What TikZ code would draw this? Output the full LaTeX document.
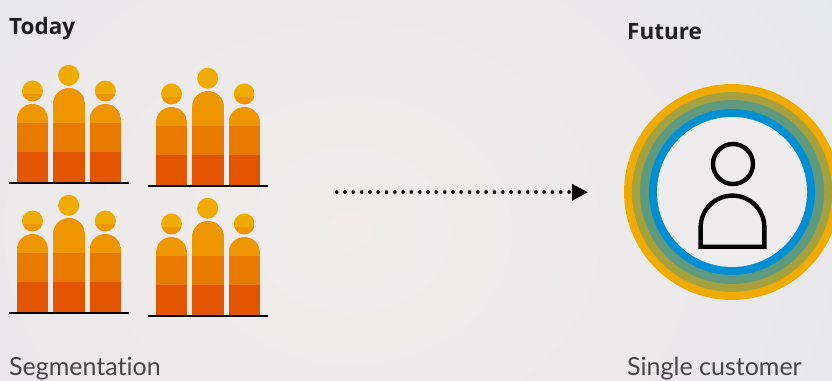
\documentclass[tikz,border=0pt]{standalone}
\usepackage{fontspec}
\setmainfont[Ligatures=NoCommon]{Lato}
\newfontfamily\headfont{Open Sans}
\usetikzlibrary{arrows.meta}
\definecolor{bgout}{HTML}{E5E6E9}
\definecolor{bgin}{HTML}{F2ECEC}
\definecolor{ptop}{HTML}{F0AB00}
\definecolor{pb}{HTML}{EE9600}
\definecolor{pc}{HTML}{E97A00}
\definecolor{pd}{HTML}{E35500}
\definecolor{ringb}{HTML}{A5A13F}
\definecolor{ringc}{HTML}{5F9A7E}
\definecolor{ringd}{HTML}{008FD3}
\definecolor{disc}{HTML}{EEEBEC}
\definecolor{txt}{HTML}{1F1F1F}
\tikzset{
  x=1pt,y=1pt,
  heading/.style={anchor=base west,inner sep=0pt,font=\headfont\fontsize{22.5}{24}\selectfont\bfseries,text=txt},
  caption/.style={anchor=base west,inner sep=0pt,font=\fontsize{25}{28}\selectfont,text=black!72},
  icon/.style={draw=black,line width=4.4pt,fill=none},
  flow/.style={line width=3.6pt,line cap=round,dash pattern=on 0.05pt off 8.25pt,-{Triangle[length=16pt,width=16pt]}},
  baseline rule/.style={line width=2.4pt,draw=black}
}
\newcommand{\onebody}[3]{% x centre, radius, top
  \begin{scope}
    \clip (#1-#2,198) -- (#1-#2,#3-#2) arc[start angle=180,end angle=0,radius=#2] -- (#1+#2,198) -- cycle;
    \fill[pb] (#1-#2,228) rectangle (#1+#2,#3+1);
    \fill[pc] (#1-#2,257) rectangle (#1+#2,228);
    \fill[pd] (#1-#2,198) rectangle (#1+#2,228);
    \fill[pc] (#1-#2,228) rectangle (#1+#2,257);
  \end{scope}}
\newcommand{\twotonehead}[1]{%
  \begin{scope}
    \clip (#1,289) circle[radius=10.5];
    \fill[ptop] (#1-11,286) rectangle (#1+11,300);
    \fill[pb] (#1-11,278) rectangle (#1+11,286);
  \end{scope}}
\newcommand{\crowd}[2]{%
  \begin{scope}[shift={(#1,#2)}]
    \onebody{32.5}{15.5}{276}
    \onebody{69}{16}{292}
    \onebody{105.3}{15.7}{276}
    \twotonehead{32.5}
    \twotonehead{105.3}
    \fill[ptop] (68.7,304.7) circle[radius=10.5];
    \draw[baseline rule] (9,197) -- (128.5,197);
  \end{scope}}
\begin{document}
\begin{tikzpicture}
\useasboundingbox (0,0) rectangle (832,380);
\clip (0,0) rectangle (832,380);
\shade[inner color=bgin,outer color=bgout] (-250,-350) rectangle (950,650);
\crowd{0}{0}
\crowd{139}{-3}
\crowd{0}{-130}
\crowd{139}{-133}
% arrow
\coordinate (from) at (336.7,187.7);
\coordinate (to) at (588,187.7);
\draw[flow] (from) -- (to);
% customer
\fill[ptop] (732,188) circle[radius=108];
\fill[ringb] (732,188) circle[radius=100];
\fill[ringc] (732,188) circle[radius=92];
\fill[ringd] (732,188) circle[radius=83];
\fill[disc] (732,188) circle[radius=75];
\draw[icon] (733,216) circle[radius=20];
\draw[icon,miter limit=10] (700.6,133.2) -- (700.6,152.5) arc[start angle=180,end angle=0,radius=31.9] -- (764.4,133.2) -- cycle;
% texts
\node[heading] (today) at (9,345) {Today};
\node[heading] (future) at (627,340) {Future};
\node[caption] (seg) at (9,4.5) {Segmentation};
\node[caption] (single) at (627,4.5) {Single customer};
\end{tikzpicture}
\end{document}
